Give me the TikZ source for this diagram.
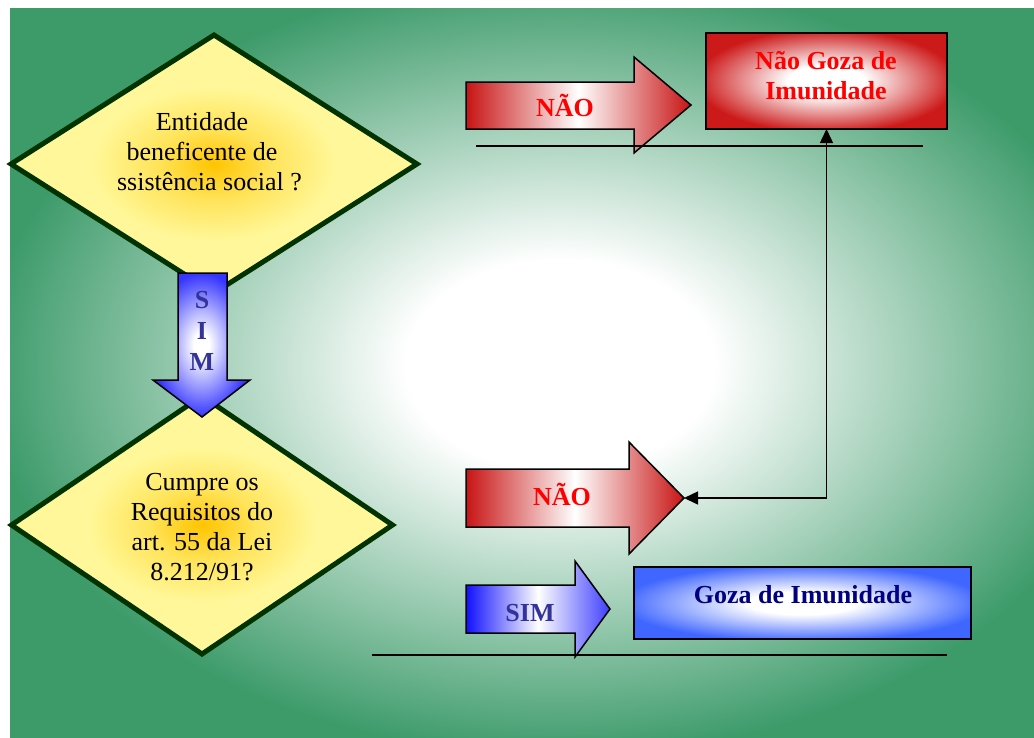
\documentclass[tikz,border=0pt]{standalone}
\usepackage{fontspec}
\setmainfont{Liberation Serif}
\usetikzlibrary{shapes.geometric,arrows.meta}

\definecolor{bggreen}{HTML}{3D9B6A}
\definecolor{dorange}{HTML}{FFC400}
\definecolor{dmid}{HTML}{FFE45A}
\definecolor{dlight}{HTML}{FFF799}
\definecolor{dgreen}{HTML}{003300}
\definecolor{rdark}{HTML}{C81414}
\definecolor{rbox}{HTML}{CC1A1A}
\definecolor{bleft}{HTML}{1010FF}
\definecolor{bright}{HTML}{3F3FFF}
\definecolor{bbox}{HTML}{3F66FF}
\definecolor{bdown}{HTML}{3535FF}
\definecolor{simtxt}{HTML}{333399}
\definecolor{navytxt}{HTML}{000080}
\definecolor{redtxt}{HTML}{FF0000}

\pgfdeclareradialshading{bgshade}{\pgfpoint{0bp}{0bp}}{color(0bp)=(white); color(7bp)=(white); color(26bp)=(bggreen); color(50bp)=(bggreen)}
\pgfdeclareradialshading{dshade}{\pgfpoint{0bp}{0bp}}{color(0bp)=(dorange); color(7bp)=(dmid); color(15bp)=(dlight); color(50bp)=(dlight)}
\pgfdeclareradialshading{rshade}{\pgfpoint{0bp}{0bp}}{color(0bp)=(white); color(8bp)=(white); color(27bp)=(rbox); color(50bp)=(rbox)}
\pgfdeclareradialshading{bshade}{\pgfpoint{0bp}{0bp}}{color(0bp)=(white); color(8bp)=(white); color(27bp)=(bbox); color(50bp)=(bbox)}
\pgfdeclareradialshading{vshade}{\pgfpoint{0bp}{0bp}}{color(0bp)=(white); color(4bp)=(white); color(25bp)=(bdown); color(50bp)=(bdown)}

\tikzset{
  dia/.style={diamond, draw=dgreen, line width=5pt, shade, shading=dshade,
    inner sep=0pt, outer sep=0pt},
  qtext/.style={font=\fontsize{26}{30}\selectfont, align=center, anchor=base, inner sep=0pt, text=black},
  blk/.style={draw=black, line width=1.5pt, line join=miter},
  redarrow/.style={blk, left color=rdark, right color=rdark, middle color=white},
  bluearrow/.style={blk, left color=bleft, right color=bright, middle color=white},
  downarrow/.style={blk, shade, shading=vshade},
  redboxstyle/.style={rectangle, draw=black, line width=2.5pt, shade, shading=rshade,
    minimum width=241pt, minimum height=96pt, inner sep=0pt, outer sep=0pt},
  blueboxstyle/.style={rectangle, draw=black, line width=2.5pt, shade, shading=bshade,
    minimum width=337pt, minimum height=72pt, inner sep=0pt, outer sep=0pt},
  btext/.style={font=\fontsize{26}{30}\selectfont\bfseries, align=center, anchor=base, inner sep=0pt},
  hline/.style={draw=black, line width=1.5pt},
  conn/.style={draw=black, line width=1.5pt,
    {Triangle[length=14pt,width=13pt]}-{Triangle[length=14pt,width=13pt]}}
}

\begin{document}
\begin{tikzpicture}[x=1pt,y=-1pt]
\useasboundingbox (0,0) rectangle (1034,737);
\fill[white] (0,0) rectangle (1034,737);
% background
\begin{scope}
\clip (10,8) rectangle (1034,737);
\fill[bggreen] (10,8) rectangle (1034,737);
\shade[shading=bgshade] (10,-10) rectangle (1110,740);
\end{scope}

% diamonds
\node[dia, minimum width=406pt, minimum height=258pt] (d1) at (214,164) {};
\node[qtext] (d1t) at (202,190) {Entidade\\beneficente de\\\hspace*{15pt}ssistência social ?};

\node[dia, minimum width=381pt, minimum height=258pt] (d2) at (202,525) {};
\node[qtext] (d2t) at (202,580) {Cumpre os\\Requisitos do\\art. 55 da Lei\\8.212/91?};

% down arrow SIM
\path[downarrow] (178,273) -- (227,273) -- (227,380) -- (250,380) -- (202,417)
  -- (153,380) -- (178,380) -- cycle;
\node[btext, text=simtxt, font=\fontsize{26}{31}\selectfont\bfseries] (simv) at (202,370) {S\\I\\M};

% upper NAO arrow
\path[redarrow] (466,82) -- (634,82) -- (634,57) -- (691,105) -- (634,153)
  -- (634,129) -- (466,129) -- cycle;
\node[btext, text=redtxt] (nao1) at (565,116) {NÃO};

% lower NAO arrow
\path[redarrow] (466,469) -- (629,469) -- (629,442) -- (684,498) -- (629,554)
  -- (629,527) -- (466,527) -- cycle;
\coordinate (nao2tip) at (684,498);
\node[btext, text=redtxt] (nao2) at (562,505) {NÃO};

% SIM arrow
\path[bluearrow] (466,585) -- (575,585) -- (575,561) -- (610,609) -- (575,657)
  -- (575,633) -- (466,633) -- cycle;
\node[btext, text=simtxt] (sim) at (530,621) {SIM};

% boxes
\node[redboxstyle] (nbox) at (826.5,81) {};
\node[btext, text=redtxt] (nboxt) at (826,99) {Não Goza de\\Imunidade};

\node[blueboxstyle] (gbox) at (802.5,603) {};
\node[btext, text=navytxt] (gboxt) at (803,603) {Goza de Imunidade};

% horizontal lines
\coordinate (l1a) at (476,146);
\coordinate (l1b) at (923,146);
\coordinate (l2a) at (372,655);
\coordinate (l2b) at (947,655);
\draw[hline] (l1a) -- (l1b);
\draw[hline] (l2a) -- (l2b);

% connector
\draw[conn] (nao2tip) -| (nbox.south);
\end{tikzpicture}
\end{document}
